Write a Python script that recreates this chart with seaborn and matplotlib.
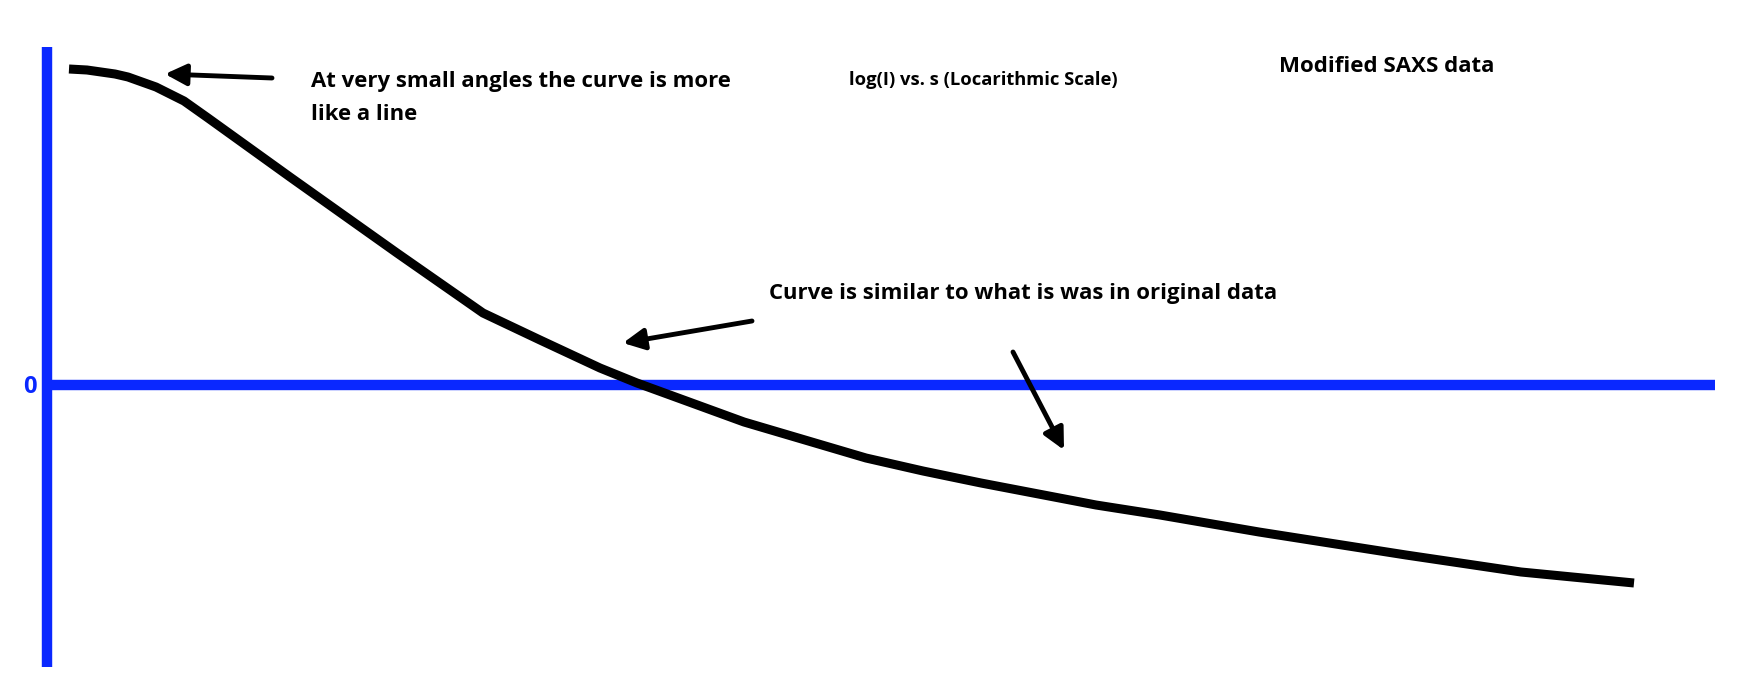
import numpy as np
import pandas as pd
import matplotlib
matplotlib.use("Agg")
import matplotlib.pyplot as plt
import seaborn as sns

# Curve: s vs log(I)
s_vals = [0.22, 0.40, 0.54, 0.68, 0.81, 0.95, 1.09, 1.23, 1.37, 1.61, 2.43,
          3.50, 4.36, 4.93, 5.53, 5.90, 6.97, 7.58, 8.19, 8.76, 9.34, 10.49,
          11.13, 12.12, 13.59, 14.74, 15.87]
logi_vals = [3.16, 3.15, 3.13, 3.11, 3.08, 3.03, 2.98, 2.91, 2.84, 2.67, 2.08,
             1.32, 0.72, 0.45, 0.17, 0.02, -0.37, -0.55, -0.73, -0.86, -0.98,
             -1.20, -1.30, -1.47, -1.70, -1.87, -1.98]

title_text = "log(I) vs. s (Locarithmic Scale)"
label_text = "Modified SAXS data"
note_small = "At very small angles the curve is more\nlike a line"
note_orig = "Curve is similar to what is was in original data"

df = pd.DataFrame({"s": s_vals, "logI": logi_vals})

sns.set_style("white")
plt.rcParams['font.family'] = ['Open Sans', 'DejaVu Sans']
plt.rcParams['text.color'] = 'black'

fig = plt.figure(figsize=(17.52, 6.96), dpi=100)
ax = fig.add_axes([0, 0, 1, 1])
ax.set_xlim(-0.47, 17.05)
ax.set_ylim(-3.11, 3.85)
ax.axis("off")

blue = "#0a28ff"
# hand drawn axes
ax.plot([0, 0], [-2.82, 3.38], color=blue, lw=7.5, solid_capstyle="butt")
ax.plot([0, 16.68], [0, 0], color=blue, lw=7.5, solid_capstyle="butt")
ax.text(-0.17, -0.02, "0", color=blue, fontsize=17, fontweight="bold",
        ha="center", va="center")

sns.lineplot(data=df, x="s", y="logI", color="black", linewidth=6.5, ax=ax,
             sort=False, solid_capstyle="butt", solid_joinstyle="round")

ax.text(2.64, 2.87, note_small, fontsize=15.9, fontweight="bold",
        va="center", linespacing=1.7)
ax.text(8.02, 3.05, title_text, fontsize=13.2, fontweight="bold", va="center")
ax.text(12.32, 3.18, label_text, fontsize=16, fontweight="bold",
        va="center")
ax.text(7.22, 0.92, note_orig, fontsize=15.9, fontweight="bold", va="center")

arrow = dict(arrowstyle="-|>", lw=3.5, color="black", mutation_scale=32,
             shrinkA=0, shrinkB=0)
ax.annotate("", xy=(1.18, 3.11), xytext=(2.25, 3.07), arrowprops=arrow)
ax.annotate("", xy=(5.76, 0.42), xytext=(7.05, 0.64), arrowprops=arrow)
ax.annotate("", xy=(10.17, -0.65), xytext=(9.66, 0.33), arrowprops=arrow)

fig.savefig("out.png", dpi=100)
